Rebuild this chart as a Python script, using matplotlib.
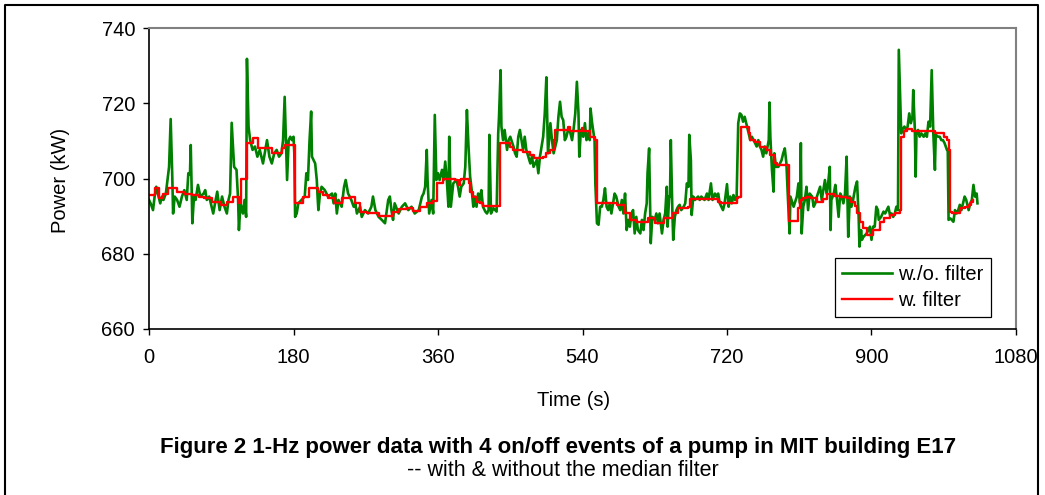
import matplotlib
matplotlib.use("Agg")
import matplotlib.pyplot as plt
from matplotlib.lines import Line2D

plt.rcParams['font.family'] = ['Liberation Sans', 'DejaVu Sans']

# raw 1-Hz power (roughly every 2-4 s)
green_t = [0, 2, 5, 7, 9, 12, 14, 16, 18, 21, 24, 25, 27, 29, 30, 32, 35, 38, 41, 44,
           47, 49, 51, 52, 54, 56, 58, 61, 64, 68, 70, 72, 75, 77, 80, 83, 85, 88, 91, 94,
           97, 99, 101, 103, 106, 109, 111, 112, 114, 117, 119, 121, 122, 124, 126, 129,
           132, 135, 138, 142, 147, 150, 153, 156, 159, 162, 165, 167, 169,
           172, 174, 176, 178, 180, 181, 182, 184, 186, 190, 194, 196, 198, 200, 202, 203,
           207, 209, 210, 211, 213, 215, 219, 223, 228, 230, 232, 234, 236, 240, 243, 245,
           248, 250, 252, 255, 257, 259, 263, 265, 269, 273, 277, 279, 282, 286, 290, 294,
           298, 300, 302, 304, 306, 311, 315, 319, 323, 327, 331, 336, 340, 342, 344, 346,
           347, 349, 352,
           354, 356, 358, 360, 362, 365, 367, 369, 371, 373, 374, 376, 379, 383, 385, 387,
           389, 392, 394, 396, 398, 400, 402, 404, 406, 408, 410, 412, 414, 416, 419, 421,
           423, 424, 426, 429, 433, 435, 436, 438, 439, 441, 443, 446, 448, 450, 454, 456,
           458, 460, 462, 464, 466, 468, 470, 475, 477, 479, 483, 485, 487, 489, 491, 493,
           495, 497, 500, 502, 504, 506, 508, 510, 512, 514, 516, 518, 520, 522, 524, 527,
           529, 531, 533, 535, 536,
           538, 541, 543, 545, 547, 549, 550, 552, 555, 556, 558, 560, 562, 564, 566, 568,
           570, 572, 574, 576, 578, 580, 582, 585, 587, 589, 591, 593, 595, 597, 599, 601,
           603, 605, 607, 609, 612, 614, 616, 618, 620, 621, 623, 624, 625, 627, 630, 632,
           634, 636, 639, 641, 643, 645, 646, 648, 649, 650, 652, 653, 655, 657, 659, 661,
           663, 666, 668, 670, 672, 673, 675, 676, 678, 680, 684, 686, 688, 692, 695, 697,
           700, 702, 705, 707, 709, 711, 713, 715, 717,
           720, 722, 724, 726, 728, 730, 732, 734, 736, 738, 740, 742, 745, 747, 749, 751,
           753, 755, 757, 759, 761, 763, 765, 767, 769, 772, 773, 774, 776, 778, 779, 781,
           784, 786, 788, 790, 792, 794, 796, 798, 799, 803, 807, 809, 811, 812, 813, 815,
           817, 819, 821, 823, 826, 828, 830, 832, 836, 838, 840, 842, 844, 846, 848, 849,
           850, 853, 855, 857, 859, 861, 863, 865, 867, 869, 871, 873, 875, 877, 880, 882,
           884, 885, 887, 888, 890, 894, 898,
           900, 902, 904, 906, 908, 909, 912, 913, 915, 917, 919, 921, 923, 925, 927, 929,
           931, 933, 934, 937, 938, 941, 943, 945, 947, 949, 951, 952, 954, 955, 956, 958,
           960, 962, 965, 967, 969, 971, 973, 975, 977, 979, 980, 983, 985, 987, 989, 991,
           994, 995, 996, 998, 1000, 1002, 1004, 1006, 1008, 1010, 1012, 1014, 1016, 1018,
           1021, 1023, 1025, 1027, 1029, 1031, 1032]
green_v = [694.3, 693.4, 691.6, 695.2, 697.8, 695.2, 693.4, 695.2, 694.3, 696.0,
           701.4, 703.1, 715.8, 700.5, 690.7, 695.2, 694.3, 692.5, 695.2, 696.9,
           694.3, 701.4, 701.0, 708.9, 688.1, 695.2, 694.3, 698.3, 695.2, 696.0,
           696.9, 694.3, 695.2, 693.4, 690.7, 694.3, 696.5, 691.6, 695.2, 692.5,
           690.7, 694.3, 696.0, 714.8, 703.1, 702.3, 694.3, 686.3, 693.4, 690.7,
           694.3, 689.8, 731.8, 713.8, 710.2, 707.6, 708.5, 705.8, 707.6, 704.0,
           710.2, 705.8, 704.0, 706.7, 707.6, 705.8, 706.7, 710.2, 721.7,
           699.6, 710.2, 711.1, 710.2, 711.1, 706.7, 689.8, 690.7, 693.4, 694.3,
           695.2, 701.4, 699.6, 710.2, 717.8, 705.8, 704.0, 699.6, 695.2, 691.6,
           696.0, 697.8, 696.9, 695.2, 696.0, 693.4, 696.0, 690.7, 694.3, 692.5,
           697.8, 699.6, 696.0, 695.2, 694.3, 692.5, 693.4, 690.7, 692.5, 689.8,
           691.6, 690.7, 692.5, 695.2, 691.6, 689.8, 689.0, 688.1, 694.3, 695.2,
           691.6, 689.0, 693.4, 690.7, 692.5, 693.4, 691.6, 692.5, 690.7, 691.6,
           695.2, 696.0, 697.8, 707.6, 699.6, 690.7, 694.3,
           690.7, 716.9, 699.6, 701.4, 699.6, 702.3, 699.6, 704.5, 699.6, 692.5,
           711.1, 692.5, 698.7, 699.6, 697.8, 695.2, 697.8, 698.7, 703.1, 718.2,
           708.5, 700.5, 696.9, 692.5, 695.2, 692.5, 696.0, 694.3, 696.9, 692.5,
           691.2, 690.7, 691.6, 711.6, 690.7, 692.1, 691.2, 712.0, 716.4, 728.8,
           713.8, 710.2, 712.9, 707.6, 710.2, 711.1, 708.5, 706.7, 705.8, 711.1,
           712.9, 710.2, 707.6, 711.1, 707.6, 704.0, 705.8, 703.1, 704.9, 701.4,
           705.8, 708.5, 711.1, 717.3, 726.9, 706.7, 714.7, 710.2, 706.7, 708.5,
           710.2, 716.4, 720.4, 716.4, 715.5, 710.2, 711.1, 712.9, 712.9, 710.2,
           713.3, 717.3, 725.7, 717.3, 705.8,
           712.9, 711.1, 714.7, 710.2, 712.0, 710.2, 718.6, 714.7, 710.2, 698.7,
           688.1, 687.7, 692.5, 692.5, 694.3, 697.4, 692.5, 691.6, 693.4, 690.7,
           693.4, 696.0, 695.2, 692.5, 691.6, 694.3, 690.7, 696.0, 686.3, 689.0,
           687.2, 690.7, 691.6, 685.4, 689.8, 686.3, 685.4, 689.0, 686.3, 690.7,
           693.4, 701.4, 708.0, 696.0, 682.8, 689.8, 689.0, 690.7, 688.1, 690.7,
           685.4, 689.0, 690.7, 697.8, 687.2, 695.2, 695.2, 710.2, 690.7, 683.7,
           689.8, 691.6, 692.5, 693.0, 691.6, 692.5, 693.4, 698.7, 697.8, 711.6,
           704.9, 690.3, 695.2, 694.3, 695.2, 694.3, 695.2, 694.3, 696.0, 694.3,
           698.7, 694.3, 696.0, 695.2, 696.0, 693.4, 692.5, 691.6, 693.4,
           698.5, 692.5, 695.2, 693.4, 695.6, 694.3, 695.2, 714.7, 717.3, 716.9,
           715.1, 716.4, 713.8, 712.0, 710.2, 711.1, 710.2, 709.4, 708.5, 710.2,
           708.5, 707.6, 705.8, 708.5, 706.7, 710.2, 720.2, 711.1, 702.3, 696.5,
           706.7, 703.1, 703.1, 704.0, 704.9, 706.7, 708.0, 704.0, 694.3, 685.4,
           695.2, 692.5, 695.2, 698.7, 693.4, 709.4, 685.4, 692.5, 694.3, 697.8,
           691.6, 696.0, 695.2, 692.5, 693.4, 695.2, 697.8, 694.3, 696.9, 699.6,
           696.0, 698.7, 703.1, 686.3, 694.3, 696.0, 698.3, 694.3, 689.8, 696.0,
           695.2, 693.4, 696.0, 705.8, 684.5, 695.2, 692.5, 694.3, 697.8, 699.2,
           689.8, 681.9, 686.3, 683.7, 684.5, 685.4, 687.2,
           683.7, 687.2, 687.2, 692.5, 691.6, 689.0, 689.8, 690.3, 691.2, 690.7,
           691.6, 692.5, 690.3, 690.7, 689.8, 690.7, 692.5, 691.6, 734.2, 712.0,
           712.9, 713.8, 712.9, 713.8, 717.3, 714.7, 716.4, 723.5, 712.9, 700.5,
           712.0, 712.9, 711.1, 712.0, 711.1, 712.0, 711.1, 715.1, 713.8, 728.8,
           712.0, 702.3, 711.6, 711.1, 711.1, 710.2, 710.2, 709.4, 707.6, 707.6,
           689.0, 689.4, 689.0, 688.5, 691.6, 690.7, 691.6, 693.0, 691.6, 693.4,
           695.2, 694.3, 691.6, 693.4, 694.3, 698.3, 695.2, 696.0, 693.4]

# median-filtered output (start of each plateau)
red_t = [0, 7, 13, 18, 24, 35, 43, 53, 62, 68, 78, 90, 97, 105, 112, 114, 122, 130, 136, 153,
         166, 170, 182, 192, 199, 211, 217, 223, 232, 240, 250, 257, 263, 271, 286, 304, 311,
         321, 329, 338, 346, 354, 359, 366, 381, 385, 387, 389, 398, 400, 404, 408, 412, 416,
         437, 450, 454, 466, 475, 479, 491, 495, 500, 504, 506, 522, 524, 539, 541, 549, 556,
         558, 583, 593, 599, 607, 622, 630, 641, 653, 659, 672, 674, 709, 713, 732, 734, 737,
         747, 749, 755, 761, 769, 774, 778, 782, 797, 809, 811, 815, 819, 823, 832, 840, 844,
         853, 861, 869, 875, 880, 882, 886, 890, 894, 902, 911, 915, 923, 929, 936, 937, 940,
         944, 950, 979, 990, 994, 996, 998, 1000, 1010, 1017, 1021, 1024, 1027]
red_v = [695.6, 697.4, 694.7, 696.0, 697.4, 696.5, 696.0, 695.6, 695.2, 694.7,
         693.8, 693.0, 693.8, 695.2, 693.4, 700.0, 709.4, 710.7, 708.0, 706.9,
         708.0, 708.9, 693.6, 695.2, 697.4, 696.5, 695.6, 694.7, 693.6, 694.7,
         695.2, 693.4, 691.2, 690.9, 690.0, 691.2, 691.8, 692.1, 691.4, 692.5,
         693.4, 694.0, 698.7, 700.0, 699.6, 698.3, 699.6, 700.0, 698.7, 696.5,
         695.2, 693.8, 693.4, 692.8, 709.4, 708.5, 707.7, 707.1, 706.2, 705.4,
         705.8, 706.7, 707.6, 710.2, 713.0, 713.6, 712.7, 713.3, 712.7, 711.1,
         710.2, 693.6, 693.0, 690.7, 689.0, 688.5, 689.4, 688.3, 689.4, 690.9,
         692.1, 692.5, 694.5, 693.8, 693.6, 694.7, 695.2, 713.8, 712.0, 710.2,
         709.8, 708.5, 707.6, 706.2, 704.0, 703.6, 688.7, 692.1, 694.3, 694.7,
         695.2, 694.7, 693.8, 694.5, 695.9, 695.4, 695.2, 694.7, 693.8, 692.8,
         690.7, 688.5, 686.8, 685.0, 686.3, 688.5, 689.4, 690.3, 690.7, 691.6,
         711.1, 712.5, 713.1, 712.5, 712.2, 711.1, 710.2, 707.6, 691.2, 690.9,
         692.1, 692.5, 693.0, 693.8, 694.3]

x_ticks = [0, 180, 360, 540, 720, 900, 1080]
y_ticks = [660, 680, 700, 720, 740]

W, H = 1045, 495
fig = plt.figure(figsize=(W / 100, H / 100), dpi=100)
ax = fig.add_axes([149 / W, 1 - 329 / H, (1016 - 149) / W, (329 - 28) / H])

ax.plot(green_t, green_v, color='#008000', lw=1.9, label='w./o. filter')
ax.plot(red_t, red_v, color='#ff0000', lw=1.7, drawstyle='steps-post', label='w. filter')

ax.set_xlim(0, 1080)
ax.set_ylim(660, 740)
ax.set_xticks(x_ticks)
ax.set_yticks(y_ticks)
ax.tick_params(direction='out', length=4, width=1, labelsize=14.5, color='black')
ax.tick_params(axis='x', pad=10)
ax.tick_params(axis='y', pad=6)

for s in ['top', 'right']:
    ax.spines[s].set_color('#808080')
    ax.spines[s].set_linewidth(1.5)
for s in ['left', 'bottom']:
    ax.spines[s].set_color('black')
    ax.spines[s].set_linewidth(1.2)

ax.set_xlabel('Time (s)', fontsize=14.5)
ax.set_ylabel('Power (kW)', fontsize=14.5)
ax.xaxis.set_label_coords((574 - 149) / 867, (329 - 401) / 301)
ax.xaxis.label.set_va('center')
ax.yaxis.set_label_coords((60 - 149) / 867, (329 - 180) / 301)
ax.yaxis.label.set_va('center')

leg = ax.legend(loc='upper left', bbox_to_anchor=(835 / W, 1 - 258 / H),
                bbox_transform=fig.transFigure, borderaxespad=0, fontsize=14.5,
                fancybox=False, framealpha=1, edgecolor='black', handlelength=2.5,
                handletextpad=0.3, labelspacing=0.35, borderpad=0.35)
leg.get_frame().set_linewidth(0.9)

fig.text(558 / W, 1 - 447 / H,
         'Figure 2 1-Hz power data with 4 on/off events of a pump in MIT building E17',
         ha='center', va='center', fontsize=16, fontweight='bold')
fig.text(563 / W, 1 - 471 / H, '-- with & without the median filter',
         ha='center', va='center', fontsize=15.5)

# outer frame of the figure (open at the bottom)
fx = [5 / W, 5 / W, 1038 / W, 1038 / W]
fy = [0, 1 - 5 / H, 1 - 5 / H, 0]
fig.add_artist(Line2D(fx, fy, transform=fig.transFigure, color='black', lw=1.5))

fig.savefig('out.png', dpi=100)
